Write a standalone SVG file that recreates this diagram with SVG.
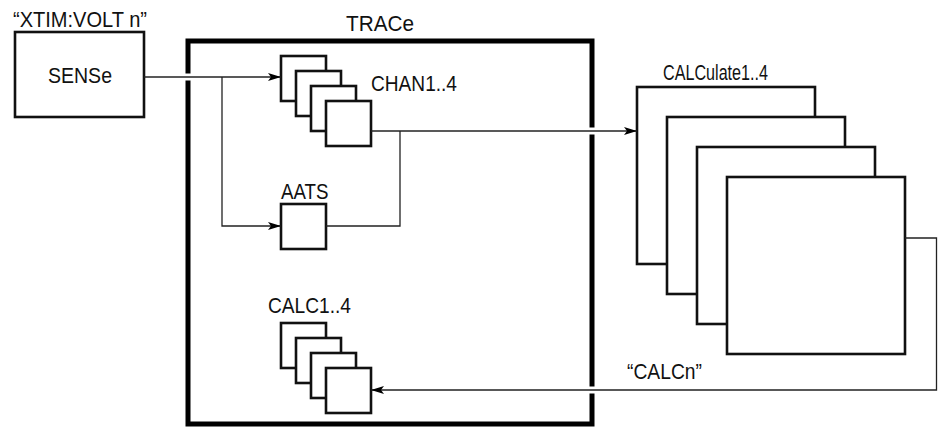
<svg xmlns="http://www.w3.org/2000/svg" width="938" height="427" viewBox="0 0 938 427">
<style>
text{font-family:"Liberation Sans",Arial,sans-serif;font-size:22px;fill:#111}
.box{fill:#fff;stroke:#111;stroke-width:2.6}
.big{fill:none;stroke:#000;stroke-width:5}
.conn{fill:none;stroke:#222;stroke-width:1.3}
.gap{stroke:#fff;stroke-width:6;fill:none}
</style>
<defs>
<marker id="arr" markerUnits="userSpaceOnUse" markerWidth="14" markerHeight="10" refX="13" refY="5" orient="auto">
<path d="M0,1 L13,5 L0,9 L3,5 z" fill="#000"/>
</marker>
</defs>
<g id="sense">
<rect class="box" x="15" y="32" width="129" height="85"/>
<text x="48" y="83" textLength="64" lengthAdjust="spacingAndGlyphs">SENSe</text>
<text x="13" y="27" textLength="134" lengthAdjust="spacingAndGlyphs">“XTIM:VOLT n”</text>
</g>
<g id="trace">
<rect class="big" x="188" y="41" width="404" height="383"/>
<text x="346" y="31" textLength="68" lengthAdjust="spacingAndGlyphs">TRACe</text>
<line class="gap" x1="188" y1="73.5" x2="188" y2="80.5"/>
<line class="gap" x1="592" y1="127.5" x2="592" y2="134.5"/>
<line class="gap" x1="592" y1="386.5" x2="592" y2="393.5"/>
</g>
<g id="chan">
<rect class="box" x="281" y="56" width="45" height="45"/>
<rect class="box" x="296" y="71" width="45" height="45"/>
<rect class="box" x="311" y="86" width="45" height="45"/>
<rect class="box" x="326" y="101" width="45" height="45"/>
<text x="371" y="90.5" textLength="86" lengthAdjust="spacingAndGlyphs">CHAN1..4</text>
</g>
<g id="aats">
<rect class="box" x="281" y="204" width="45" height="45"/>
<text x="281" y="199" textLength="47.5" lengthAdjust="spacingAndGlyphs">AATS</text>
</g>
<g id="calc">
<rect class="box" x="281" y="323" width="45" height="45"/>
<rect class="box" x="296" y="338" width="45" height="45"/>
<rect class="box" x="311" y="353" width="45" height="45"/>
<rect class="box" x="326" y="368" width="45" height="45"/>
<text x="268" y="313" textLength="83" lengthAdjust="spacingAndGlyphs">CALC1..4</text>
</g>
<g id="calculate">
<rect class="box" x="637" y="87" width="178" height="177"/>
<rect class="box" x="667" y="117" width="178" height="177"/>
<rect class="box" x="697" y="147" width="178" height="177"/>
<rect class="box" x="727" y="177" width="178" height="177"/>
<text x="663" y="80" textLength="105" lengthAdjust="spacingAndGlyphs">CALCulate1..4</text>
</g>
<g id="connectors">
<path class="conn" d="M144,77 H281" marker-end="url(#arr)"/>
<path class="conn" d="M222,77 V226 H281" marker-end="url(#arr)"/>
<path class="conn" d="M326,226 H400 V131"/>
<path class="conn" d="M371,131 H637" marker-end="url(#arr)"/>
<path class="conn" d="M905,238 H936.5 V390 H371" marker-end="url(#arr)"/>
<text x="627" y="379" textLength="75" lengthAdjust="spacingAndGlyphs">“CALCn”</text>
</g>
</svg>
